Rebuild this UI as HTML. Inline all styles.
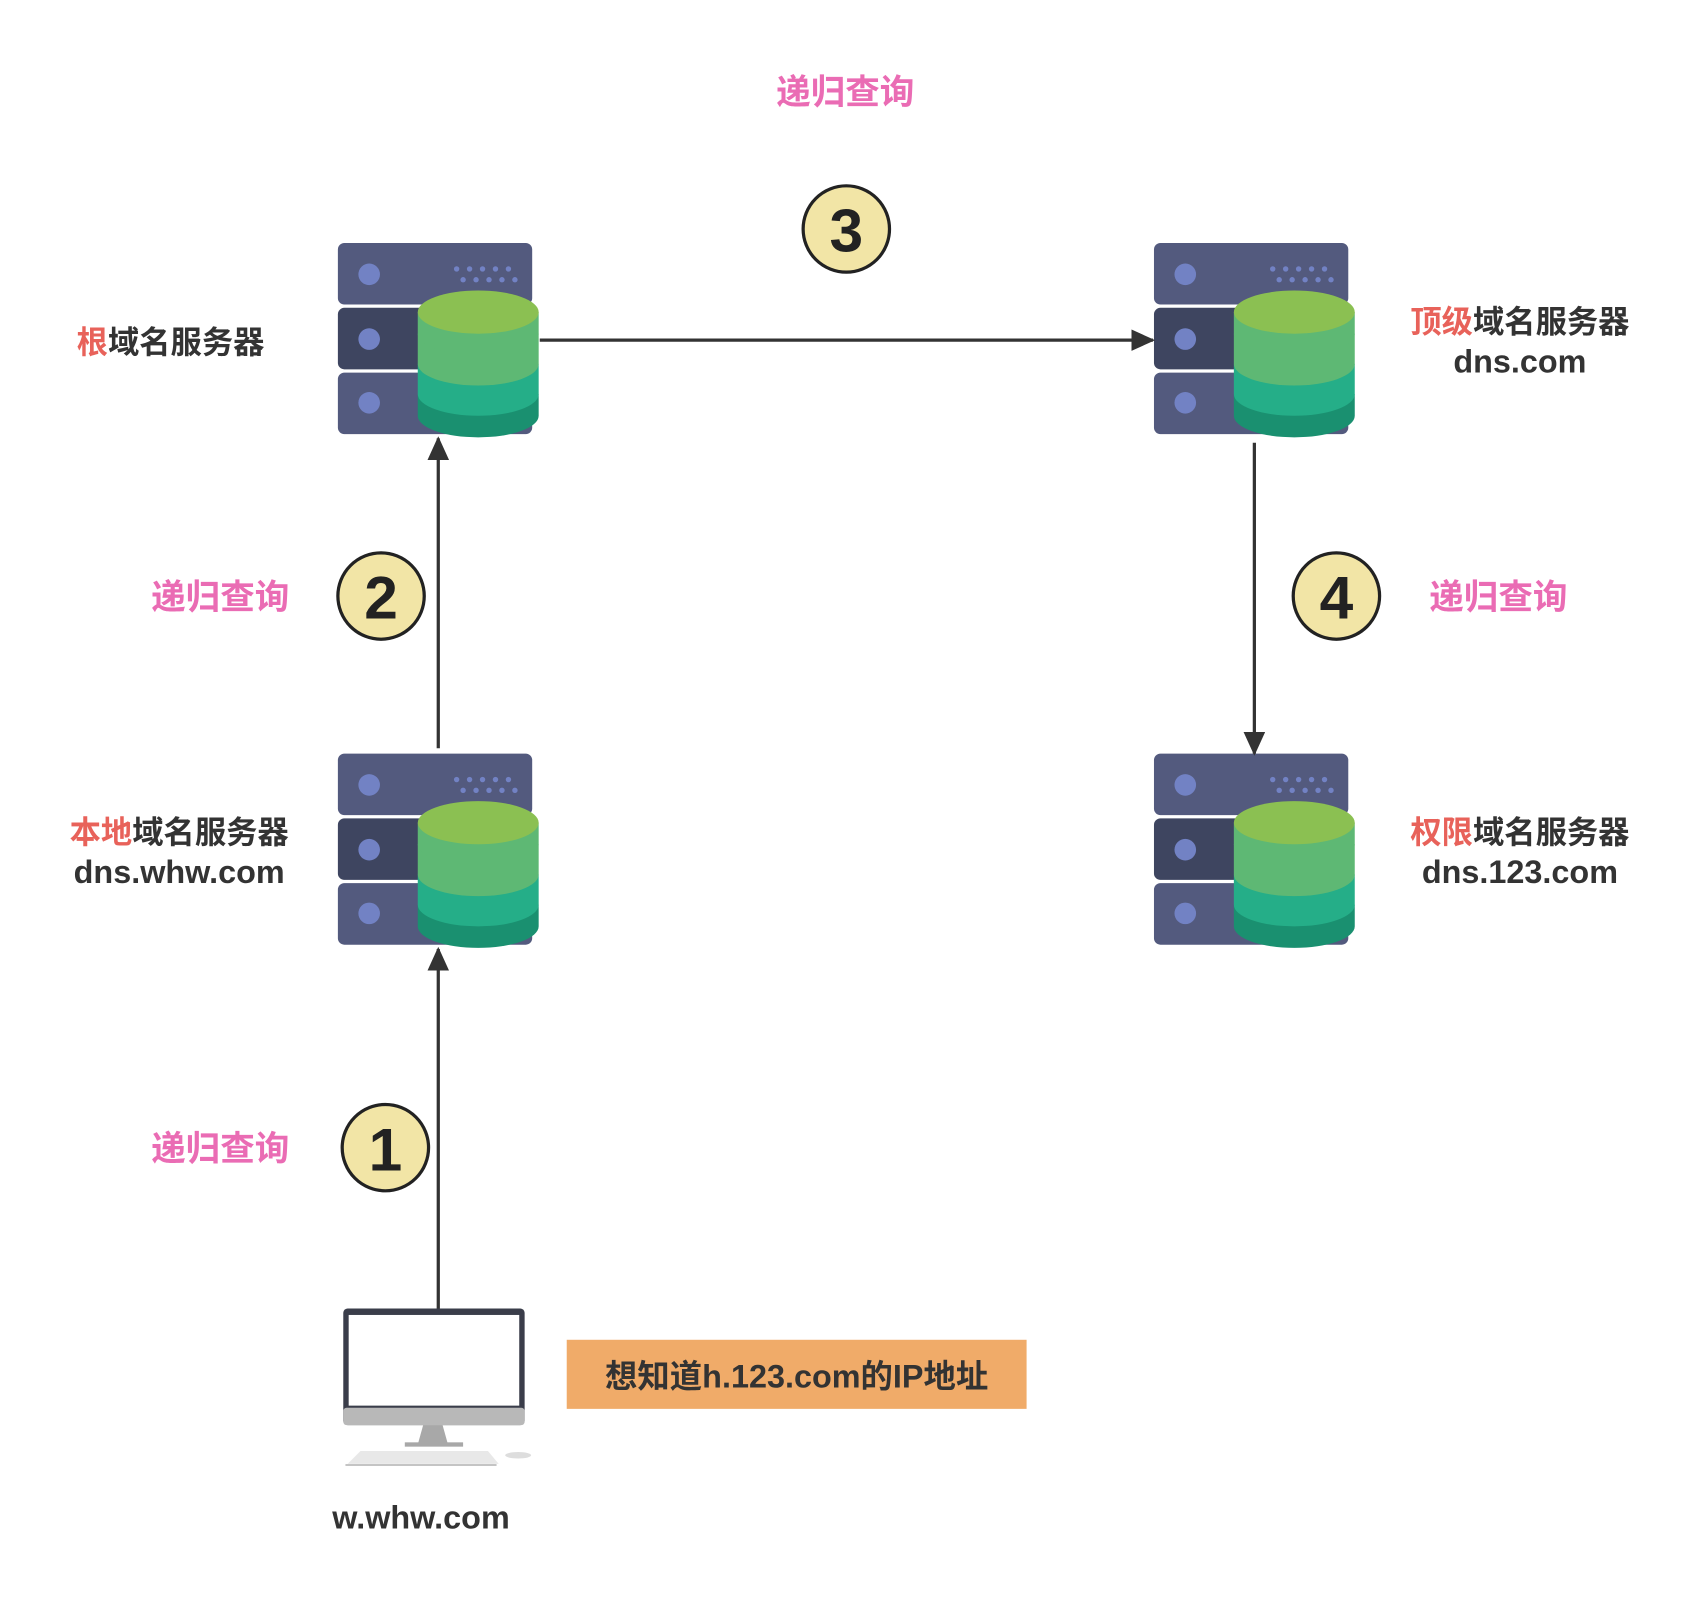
<!DOCTYPE html>
<html><head><meta charset="utf-8"><style>
html,body{margin:0;padding:0;background:#fff}
svg{display:block}
text{font-family:"Liberation Sans","Noto Sans CJK SC",sans-serif;font-weight:bold}
</style></head><body>
<svg width="1684" height="1599" viewBox="0 0 1560 1481" xmlns="http://www.w3.org/2000/svg">
<defs>
<marker id="ah" markerWidth="22" markerHeight="20" refX="20" refY="10" orient="auto" markerUnits="userSpaceOnUse">
<path d="M0,0 L22,10 L0,20 z" fill="#333"/></marker>
<g id="srv">
<rect x="0" y="0" width="180" height="57" rx="6" fill="#535a7e"/>
<rect x="0" y="60" width="180" height="57" rx="6" fill="#3e4560"/>
<rect x="0" y="120" width="180" height="57" rx="6" fill="#535a7e"/>
<circle cx="29" cy="29" r="10" fill="#7282c4"/>
<circle cx="29" cy="89" r="10" fill="#7282c4"/>
<circle cx="29" cy="148" r="10" fill="#7282c4"/>
<g fill="#7282c4">
<circle cx="110" cy="24" r="2.5"/><circle cx="122" cy="24" r="2.5"/><circle cx="134" cy="24" r="2.5"/><circle cx="146" cy="24" r="2.5"/><circle cx="158" cy="24" r="2.5"/>
<circle cx="116" cy="34" r="2.5"/><circle cx="128" cy="34" r="2.5"/><circle cx="140" cy="34" r="2.5"/><circle cx="152" cy="34" r="2.5"/><circle cx="164" cy="34" r="2.5"/>
</g>
<path d="M74,140 v20 a56,20 0 0 0 112,0 v-20 z" fill="#1a9070"/>
<path d="M74,112 v28 a56,20 0 0 0 112,0 v-28 z" fill="#25ae88"/>
<path d="M74,84 v28 a56,20 0 0 0 112,0 v-28 z" fill="#5eb874"/>
<path d="M74,64 v20 a56,20 0 0 0 112,0 v-20 z" fill="#5eb874"/>
<ellipse cx="130" cy="64" rx="56" ry="20" fill="#8bc052"/>
</g>
</defs>

<use href="#srv" x="313" y="225"/>
<use href="#srv" x="1069" y="225"/>
<use href="#srv" x="313" y="698"/>
<use href="#srv" x="1069" y="698"/>

<g stroke="#333" stroke-width="3" fill="none">
<line x1="500" y1="315" x2="1068" y2="315" marker-end="url(#ah)"/>
<line x1="406" y1="693" x2="406" y2="406" marker-end="url(#ah)"/>
<line x1="406" y1="1212" x2="406" y2="879" marker-end="url(#ah)"/>
<line x1="1162" y1="410" x2="1162" y2="698" marker-end="url(#ah)"/>
</g>

<g stroke="#222" stroke-width="3" fill="#f2e5a6">
<circle cx="784" cy="212" r="40"/>
<circle cx="353" cy="552" r="40"/>
<circle cx="1238" cy="552" r="40"/>
<circle cx="357" cy="1063" r="40"/>
</g>
<g fill="#222" font-size="56" text-anchor="middle">
<text x="784" y="233">3</text>
<text x="353" y="573">2</text>
<text x="1238" y="573">4</text>
<text x="357" y="1084">1</text>
</g>

<g fill="#ea6cb4" font-size="32" text-anchor="middle">
<text x="783" y="96">递归查询</text>
<text x="204" y="564">递归查询</text>
<text x="204" y="1075">递归查询</text>
<text x="1388" y="564">递归查询</text>
</g>

<g fill="#333" font-size="29" text-anchor="middle">
<text x="158" y="327"><tspan fill="#e8625a">根</tspan>域名服务器</text>
<text x="1408" y="308"><tspan fill="#e8625a">顶级</tspan>域名服务器</text>
<text x="1408" y="345" font-size="30">dns.com</text>
<text x="166" y="781"><tspan fill="#e8625a">本地</tspan>域名服务器</text>
<text x="166" y="818" font-size="30">dns.whw.com</text>
<text x="1408" y="781"><tspan fill="#e8625a">权限</tspan>域名服务器</text>
<text x="1408" y="818" font-size="30">dns.123.com</text>
<text x="390" y="1416" font-size="30">w.whw.com</text>
</g>

<rect x="525" y="1241" width="426" height="64" fill="#f0ab69"/>
<text x="738" y="1285" fill="#333" font-size="30" text-anchor="middle">想知道h.123.com的IP地址</text>

<!-- computer -->
<rect x="318" y="1212" width="168" height="108" rx="4" fill="#3a3d4a"/>
<rect x="323" y="1218" width="158" height="84" fill="#fff"/>
<rect x="318" y="1304" width="168" height="16" rx="3" fill="#b8b8b8"/>
<path d="M392,1320 h18 l5,18 h-28 z" fill="#a8a8a8"/>
<rect x="375" y="1336" width="54" height="4" fill="#a8a8a8"/>
<path d="M334,1344 h118 l10,12 h-140 z" fill="#e8e8e8"/>
<ellipse cx="480" cy="1348" rx="12" ry="3" fill="#ddd"/>
<line x1="320" y1="1357" x2="460" y2="1357" stroke="#888" stroke-width="1"/>
</svg>
</body></html>
